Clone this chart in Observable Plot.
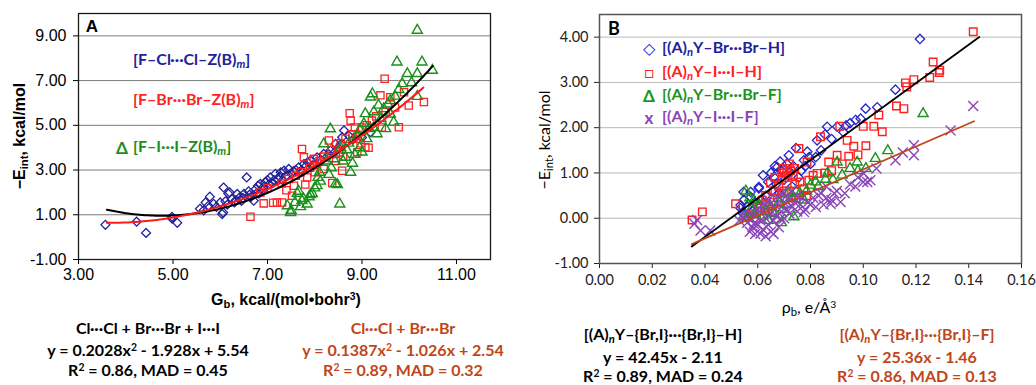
<!DOCTYPE html>
<html><head><meta charset="utf-8">
<script src="https://cdn.jsdelivr.net/npm/d3@7"></script>
<script src="https://cdn.jsdelivr.net/npm/@observablehq/plot@0.6"></script>
<style>
body{margin:0;background:#fff;}
#wrap{position:relative;width:1036px;height:385px;overflow:hidden;background:#fff;}
.abs{position:absolute;white-space:nowrap;line-height:1;}
.sub{font-size:70%;vertical-align:-0.3em;}
.sup{font-size:65%;vertical-align:0.5em;}
svg{position:absolute;top:0;overflow:visible;}
</style></head><body><div id="wrap"></div>
<script>
// ---------- Panel A data: [G_b, -E_int] ----------
const aCl = [[3.57,0.55],[4.23,0.69],[4.43,0.19],[4.98,0.83],[5.09,0.64],[4.98,0.91],[5.57,1.27],[5.65,1.20],[5.69,1.55],[5.75,1.40],[5.78,1.81],[5.86,1.49],[5.92,1.35],[6.00,1.55],[6.04,1.03],[6.06,1.10],[6.07,2.22],[6.11,1.60],[6.15,1.45],[6.17,1.95],[6.20,2.00],[6.25,1.70],[6.30,1.55],[6.33,1.65],[6.36,1.93],[6.42,1.80],[6.45,1.62],[6.48,1.75],[6.50,1.93],[6.56,2.67],[6.60,2.05],[6.62,1.90],[6.64,1.78],[6.71,1.63],[6.75,2.15],[6.78,1.98],[6.80,2.30],[6.82,1.95],[6.85,2.38],[6.90,2.10],[6.92,2.25],[6.95,2.45],[7.00,2.55],[7.03,2.35],[7.06,2.67],[7.10,2.40],[7.14,2.55],[7.17,2.83],[7.22,2.60],[7.25,2.70],[7.28,2.90],[7.32,2.55],[7.35,2.97],[7.40,2.75],[7.45,3.05],[7.50,2.85],[7.55,2.95],[7.60,3.00],[7.66,3.12],[7.72,3.00],[7.77,3.27],[7.80,3.15],[7.85,3.35],[7.91,3.42],[7.98,3.25],[8.05,3.57],[8.12,3.45],[8.19,3.72],[8.26,3.60],[8.30,3.70],[8.33,3.87],[8.40,3.75],[8.44,4.17],[8.50,4.00],[8.55,4.15],[8.58,4.47],[8.62,4.77],[8.72,4.54],[8.80,4.35],[8.90,4.60],[9.00,4.45],[9.18,4.69]];
const aBr = [[6.64,0.91],[6.85,2.00],[6.92,1.51],[7.00,2.20],[7.12,1.54],[7.20,1.55],[7.30,2.40],[7.31,1.55],[7.40,2.10],[7.45,2.60],[7.52,1.85],[7.56,2.30],[7.60,2.75],[7.70,2.90],[7.73,3.94],[7.77,3.57],[7.80,2.35],[7.84,2.67],[7.90,3.10],[7.98,3.50],[8.00,2.90],[8.05,3.30],[8.10,3.40],[8.19,3.05],[8.20,3.60],[8.30,4.32],[8.35,3.90],[8.37,2.42],[8.45,3.40],[8.51,3.79],[8.55,4.20],[8.58,2.97],[8.60,3.60],[8.65,4.40],[8.74,5.54],[8.76,5.21],[8.80,4.60],[8.85,4.90],[8.88,4.40],[8.90,3.80],[8.97,4.20],[9.00,4.90],[9.07,4.02],[9.10,5.00],[9.14,4.00],[9.21,5.21],[9.30,5.40],[9.39,6.34],[9.42,4.90],[9.48,7.08],[9.50,5.60],[9.60,6.26],[9.70,5.80],[9.78,4.91],[9.89,6.48],[9.99,5.89],[10.31,6.04]];
const aI = [[7.42,1.40],[7.49,1.10],[7.50,1.20],[7.58,1.55],[7.63,1.96],[7.66,2.05],[7.70,1.36],[7.73,1.63],[7.76,1.72],[7.84,1.48],[7.88,1.80],[7.91,1.90],[7.95,1.95],[8.00,2.20],[8.05,2.30],[8.07,2.67],[8.10,2.90],[8.12,2.50],[8.19,4.17],[8.25,3.40],[8.30,2.80],[8.33,4.84],[8.35,3.10],[8.40,3.50],[8.44,2.38],[8.48,2.35],[8.53,1.48],[8.55,4.00],[8.60,3.40],[8.65,3.57],[8.68,3.90],[8.72,4.20],[8.76,2.90],[8.80,3.30],[8.85,3.70],[8.90,4.50],[8.95,4.00],[8.95,4.80],[9.00,3.80],[9.04,5.07],[9.07,5.52],[9.10,4.40],[9.15,4.85],[9.18,6.26],[9.22,6.41],[9.25,5.60],[9.25,4.90],[9.32,4.62],[9.35,5.90],[9.40,5.30],[9.46,5.74],[9.50,4.85],[9.55,5.95],[9.60,6.11],[9.60,5.50],[9.67,5.14],[9.70,6.30],[9.74,7.83],[9.78,6.60],[9.85,6.86],[9.96,7.31],[10.05,6.90],[10.17,7.31],[10.17,6.29],[10.17,9.25],[10.27,7.83],[10.49,7.46]];
// quadratic trendline coefficients [a,b,c] and x-range
const aFitAll = [0.2028, -1.928, 5.54];
const aFitAllRange = [3.6, 10.5];
const aFitClBr = [0.1387, -1.026, 2.54];
const aFitClBrRange = [3.6, 10.3];
const aXTicks = [3, 5, 7, 9, 11];
const aYTicks = [-1, 1, 3, 5, 7, 9];

// ---------- Panel B data: [rho_b, -E_int] ----------
const bBrH = [[0.0535,0.22],[0.0535,0.29],[0.0545,0.10],[0.0547,0.40],[0.0546,0.58],[0.056,0.25],[0.0573,0.47],[0.0573,0.58],[0.058,0.15],[0.059,0.35],[0.0604,0.66],[0.0604,0.69],[0.061,0.40],[0.062,0.95],[0.063,0.50],[0.064,0.80],[0.065,1.00],[0.0655,0.60],[0.0661,0.91],[0.0665,1.15],[0.067,0.75],[0.0674,1.13],[0.068,0.55],[0.0685,1.25],[0.069,1.05],[0.070,0.85],[0.071,1.20],[0.0718,1.39],[0.072,1.00],[0.073,0.70],[0.0735,1.15],[0.0745,1.55],[0.0755,0.90],[0.0765,1.05],[0.0775,1.28],[0.078,1.15],[0.0788,1.47],[0.0795,1.35],[0.080,1.20],[0.082,1.35],[0.0825,1.72],[0.084,1.50],[0.0855,1.85],[0.0863,2.02],[0.088,1.75],[0.0901,2.02],[0.0925,1.90],[0.0935,2.05],[0.095,2.10],[0.0971,2.17],[0.099,2.20],[0.1009,2.42],[0.1053,2.45],[0.1122,2.84],[0.1215,3.96]];
const bIH = [[0.0351,-0.04],[0.039,0.14],[0.0516,0.32],[0.0565,0.05],[0.058,0.10],[0.0595,0.00],[0.060,0.25],[0.0617,0.40],[0.0625,0.30],[0.063,0.50],[0.064,0.20],[0.0648,0.77],[0.0655,0.15],[0.066,0.35],[0.0665,0.60],[0.0665,0.90],[0.0675,0.45],[0.068,0.70],[0.069,0.55],[0.069,0.85],[0.0695,1.10],[0.070,0.60],[0.070,1.00],[0.0705,0.90],[0.071,1.10],[0.0715,0.95],[0.072,0.60],[0.072,1.20],[0.0725,1.05],[0.0735,0.95],[0.074,0.75],[0.074,1.10],[0.0745,0.45],[0.0756,1.54],[0.076,0.80],[0.0775,0.65],[0.0785,0.50],[0.0787,1.24],[0.0794,0.84],[0.081,0.95],[0.0825,0.99],[0.0838,1.80],[0.0855,1.00],[0.0869,1.24],[0.088,1.05],[0.0901,1.39],[0.0911,2.03],[0.092,1.20],[0.0939,1.72],[0.0945,1.37],[0.0964,1.59],[0.098,1.40],[0.100,2.03],[0.101,1.60],[0.104,2.03],[0.1059,2.28],[0.1072,1.91],[0.1126,2.48],[0.1154,2.42],[0.116,2.99],[0.1165,2.90],[0.1192,3.06],[0.1252,3.11],[0.1265,3.45],[0.1288,3.22],[0.129,3.27],[0.1417,4.12]];
const bBrF = [[0.0546,0.03],[0.0555,0.60],[0.056,0.00],[0.057,0.45],[0.0575,0.20],[0.0585,0.40],[0.059,0.10],[0.0595,0.14],[0.0605,0.30],[0.062,0.05],[0.063,0.15],[0.064,-0.05],[0.065,0.25],[0.066,0.10],[0.068,0.35],[0.069,-0.10],[0.0695,0.20],[0.071,0.30],[0.0715,0.55],[0.073,0.45],[0.0737,0.03],[0.0745,0.60],[0.076,0.55],[0.0775,0.40],[0.0785,0.60],[0.080,0.73],[0.0819,0.80],[0.083,0.70],[0.0857,0.86],[0.0865,1.00],[0.0885,0.85],[0.0901,1.24],[0.092,0.95],[0.095,1.10],[0.0977,1.24],[0.098,1.05],[0.101,1.10],[0.1046,1.32],[0.1093,1.49],[0.1227,2.31]];
const bIF = [[0.036,-0.12],[0.037,-0.04],[0.0383,-0.27],[0.042,-0.27],[0.053,-0.05],[0.0545,0.10],[0.055,0.00],[0.056,-0.10],[0.057,0.10],[0.057,-0.30],[0.058,-0.20],[0.0585,-0.12],[0.059,0.05],[0.059,-0.35],[0.060,-0.15],[0.060,0.20],[0.061,-0.05],[0.061,-0.34],[0.062,0.15],[0.062,-0.25],[0.063,0.30],[0.063,0.00],[0.063,-0.40],[0.064,-0.15],[0.064,0.40],[0.065,0.10],[0.065,-0.30],[0.066,0.25],[0.066,-0.05],[0.066,-0.35],[0.067,0.45],[0.067,0.05],[0.068,-0.20],[0.068,0.30],[0.0686,-0.01],[0.069,0.15],[0.069,0.55],[0.070,0.35],[0.070,0.00],[0.071,0.20],[0.071,0.50],[0.072,0.10],[0.072,0.40],[0.073,0.25],[0.073,0.60],[0.074,0.35],[0.075,0.15],[0.075,0.50],[0.076,0.30],[0.077,0.45],[0.0775,0.14],[0.078,0.20],[0.079,0.35],[0.080,0.30],[0.081,0.45],[0.082,0.25],[0.083,0.50],[0.084,0.55],[0.085,0.30],[0.086,0.45],[0.086,0.70],[0.0876,0.32],[0.088,0.40],[0.089,0.55],[0.090,0.60],[0.0914,0.36],[0.093,0.55],[0.095,0.75],[0.097,0.70],[0.098,0.90],[0.100,0.80],[0.1002,0.99],[0.1015,0.80],[0.1027,0.84],[0.105,1.10],[0.1122,1.28],[0.115,1.45],[0.1192,1.39],[0.1192,1.61],[0.1331,1.94],[0.1417,2.48]];
// linear trendline coefficients [slope, intercept] and x-range
const bFitH = [42.45, -2.11];
const bFitHRange = [0.035, 0.144];
const bFitF = [25.36, -1.46];
const bFitFRange = [0.035, 0.142];
const bXTicks = [0, 0.02, 0.04, 0.06, 0.08, 0.10, 0.12, 0.14, 0.16];
const bYTicks = [-1, 0, 1, 2, 3, 4];

// ---------- helpers ----------
const wrap = document.getElementById("wrap");
const fmt2 = d => d.toFixed(2);
function quadCurve(c, r) { // sample the published trendline equation
  return d3.range(r[0], r[1] + 1e-9, (r[1] - r[0]) / 120).map(x => [x, c[0]*x*x + c[1]*x + c[2]]);
}
function linCurve(c, r) { return r.map(x => [x, c[0]*x + c[1]]); }
function txt(html, x, y, o = {}) {
  const d = document.createElement("div");
  d.className = "abs";
  d.innerHTML = html;
  const size = o.size || 16;
  Object.assign(d.style, {
    left: x + "px", top: y + "px", fontSize: size + "px",
    fontFamily: o.family || "Lato, sans-serif",
    fontWeight: o.weight || "bold", color: o.color || "#000",
    transform: (o.anchor === "start" ? "translate(0,-50%)" : "translate(-50%,-50%)") + (o.rotate ? " rotate(-90deg)" : "")
  });
  wrap.appendChild(d);
  return d;
}
const P = d => d[0], Q = d => d[1];

// ---------- Panel A ----------
const plotA = Plot.plot({
  width: 500, height: 300,
  marginLeft: 78, marginRight: 10, marginTop: 13, marginBottom: 41,
  style: {fontFamily: '"Liberation Sans", Arial, sans-serif', fontSize: "16px", color: "#000", background: "transparent"},
  x: {domain: [3, 11.72], ticks: aXTicks, tickFormat: fmt2, label: null, tickSize: 5, tickPadding: 4},
  y: {domain: [-1, 10], ticks: aYTicks, tickFormat: fmt2, label: null, tickSize: 5, tickPadding: 7},
  marks: [
    Plot.gridY(aYTicks, {stroke: "#7a7a7a", strokeOpacity: 1, strokeWidth: 1}),
    Plot.dot(aCl, {x: P, y: Q, symbol: "diamond2", r: 4, stroke: "#22229a", strokeWidth: 1.3, fill: "none"}),
    Plot.dot(aBr, {x: P, y: Q, symbol: "square2", r: 4.6, stroke: "#ff2222", strokeWidth: 1.3, fill: "none"}),
    Plot.dot(aI, {x: P, y: Q, symbol: "triangle2", r: 4.8, stroke: "#1b8f1b", strokeWidth: 1.4, fill: "none"}),
    Plot.line(quadCurve(aFitAll, aFitAllRange), {x: P, y: Q, stroke: "#000", strokeWidth: 2}),
    Plot.line(quadCurve(aFitClBr, aFitClBrRange), {x: P, y: Q, stroke: "#ff1a1a", strokeWidth: 2}),
    Plot.frame({stroke: "#1a1a1a", strokeWidth: 1.3})
  ]
});
plotA.style.left = "0px";
wrap.appendChild(plotA);

// ---------- Panel B ----------
const plotB = Plot.plot({
  width: 536, height: 300,
  marginLeft: 99, marginRight: 15, marginTop: 14, marginBottom: 37,
  style: {fontFamily: "Lato, sans-serif", fontSize: "14.5px", color: "#222", background: "transparent"},
  x: {domain: [0, 0.16], ticks: bXTicks, tickFormat: fmt2, label: null, tickSize: 5, tickPadding: 6},
  y: {domain: [-1, 4.5], ticks: bYTicks, tickFormat: fmt2, label: null, tickSize: 5, tickPadding: 6},
  marks: [
    Plot.gridY(bYTicks, {stroke: "#b8b8b8", strokeOpacity: 1, strokeWidth: 1}),
    Plot.dot(bBrH, {x: P, y: Q, symbol: "diamond2", r: 4.2, stroke: "#2424c8", strokeWidth: 1.3, fill: "none"}),
    Plot.dot(bIH, {x: P, y: Q, symbol: "square2", r: 4.8, stroke: "#ff2020", strokeWidth: 1.4, fill: "none"}),
    Plot.dot(bBrF, {x: P, y: Q, symbol: "triangle2", r: 4.8, stroke: "#1b941b", strokeWidth: 1.4, fill: "none"}),
    Plot.dot(bIF, {x: P, y: Q, symbol: "times", r: 4.6, stroke: "#8a44b8", strokeWidth: 1.4, fill: "none"}),
    Plot.line(linCurve(bFitH, bFitHRange), {x: P, y: Q, stroke: "#000", strokeWidth: 1.8}),
    Plot.line(linCurve(bFitF, bFitFRange), {x: P, y: Q, stroke: "#c0461a", strokeWidth: 1.8}),
    Plot.frame({stroke: "#555", strokeWidth: 1.5})
  ]
});
plotB.style.left = "500px";
wrap.appendChild(plotB);

// ---------- Texts: Panel A ----------
txt("A", 92, 26, {family: '"Liberation Sans", Arial, sans-serif', size: 17});
txt("[F–Cl···Cl–Z(B)<span class='sub'><i>m</i></span>]", 133, 60, {anchor: "start", color: "#22229a", size: 16});
txt("[F–Br···Br–Z(B)<span class='sub'><i>m</i></span>]", 133, 100, {anchor: "start", color: "#ff2222", size: 16});
txt("Δ", 122, 147, {color: "#1b8f1b", size: 17});
txt("[F–I···I–Z(B)<span class='sub'><i>m</i></span>]", 133, 147, {anchor: "start", color: "#1b8f1b", size: 16});
txt("−E<span class='sub'>int</span>, kcal/mol", 21, 136, {rotate: true, family: '"Liberation Sans", Arial, sans-serif', size: 16});
txt("G<span class='sub'>b</span>, kcal/(mol•bohr<span class='sup'>3</span>)", 286, 301, {family: '"Liberation Sans", Arial, sans-serif', size: 16});
txt("Cl···Cl + Br···Br + I···I", 148, 328, {size: 16});
txt("y = 0.2028x<span class='sup'>2</span> - 1.928x + 5.54", 148, 350, {size: 16});
txt("R<span class='sup'>2</span> = 0.86, MAD = 0.45", 148, 370, {size: 16});
txt("Cl···Cl + Br···Br", 403, 328, {size: 16, color: "#c0461a"});
txt("y = 0.1387x<span class='sup'>2</span> - 1.026x + 2.54", 403, 350, {size: 16, color: "#c0461a"});
txt("R<span class='sup'>2</span> = 0.89, MAD = 0.32", 403, 370, {size: 16, color: "#c0461a"});

// ---------- Texts: Panel B ----------
txt("B", 614, 28, {family: "Lato, sans-serif", size: 18});
txt("◇", 649, 48, {color: "#2424c8", size: 16, weight: "normal"});
txt("[(A)<span class='sub'><i>n</i></span>Y–Br···Br–H]", 662, 48, {anchor: "start", color: "#22229a", size: 16});
txt("□", 649, 72, {color: "#ff2020", size: 16, weight: "normal"});
txt("[(A)<span class='sub'><i>n</i></span>Y–I···I–H]", 662, 72, {anchor: "start", color: "#ff2020", size: 16});
txt("Δ", 649, 95, {color: "#1b941b", size: 17});
txt("[(A)<span class='sub'><i>n</i></span>Y–Br···Br–F]", 662, 95, {anchor: "start", color: "#1b941b", size: 16});
txt("x", 649, 117, {color: "#8a44b8", size: 17});
txt("[(A)<span class='sub'><i>n</i></span>Y–I···I–F]", 662, 117, {anchor: "start", color: "#8a44b8", size: 16});
txt("−E<span class='sub'>int</span>, kcal/mol", 545, 140, {rotate: true, size: 16, weight: "normal"});
txt("ρ<span class='sub'>b</span>, e/Å<span class='sup'>3</span>", 809, 308, {size: 16, weight: "normal"});
txt("[(A)<span class='sub'><i>n</i></span>Y–{Br,I}···{Br,I}–H]", 663, 335, {size: 16});
txt("y = 42.45x - 2.11", 663, 357, {size: 16});
txt("R<span class='sup'>2</span> = 0.89, MAD = 0.24", 663, 376, {size: 16});
txt("[(A)<span class='sub'><i>n</i></span>Y–{Br,I}···{Br,I}–F]", 917, 335, {size: 16, color: "#c0461a"});
txt("y = 25.36x - 1.46", 917, 357, {size: 16, color: "#c0461a"});
txt("R<span class='sup'>2</span> = 0.86, MAD = 0.13", 917, 376, {size: 16, color: "#c0461a"});
</script>
</body></html>
